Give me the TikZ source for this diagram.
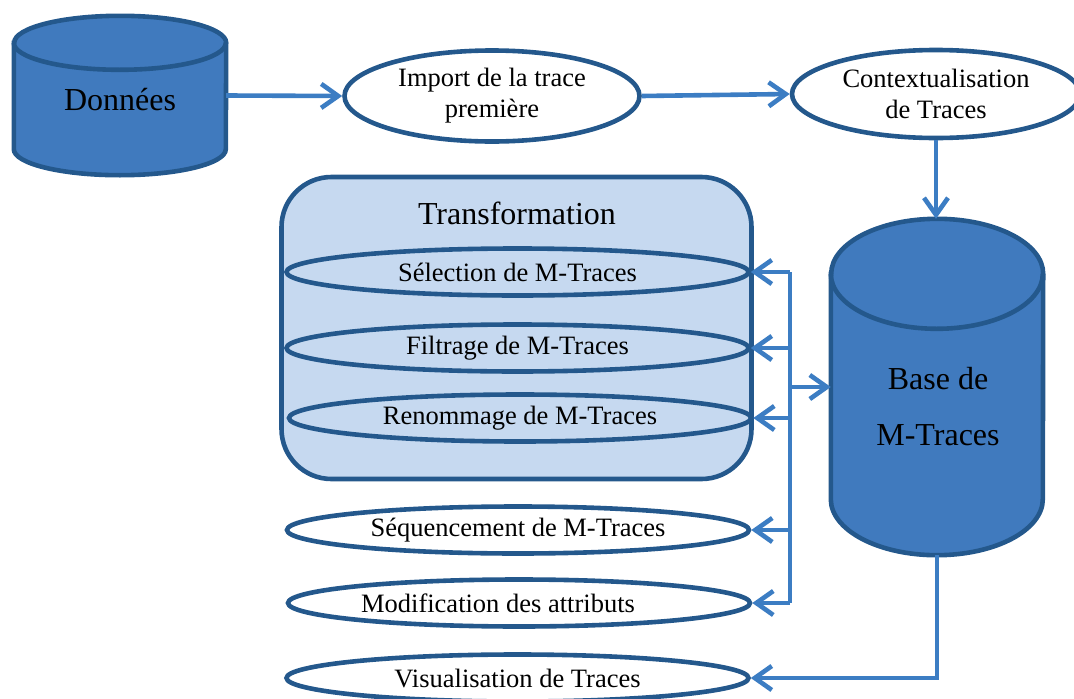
\documentclass[tikz,border=0pt]{standalone}
\usepackage{fontspec}
\setmainfont{Liberation Serif}
\usetikzlibrary{shapes.geometric,arrows.meta,calc,backgrounds}
\definecolor{cylblue}{RGB}{64,122,190}
\definecolor{edgeblue}{RGB}{36,88,140}
\definecolor{arrowblue}{RGB}{60,125,195}
\definecolor{paleblue}{RGB}{198,217,240}
\begin{document}
\begin{tikzpicture}
			[x=1pt,y=1pt,
			elli/.style={ellipse,draw=edgeblue,line width=4.6pt,minimum width=462pt,minimum height=47pt,inner sep=0pt,font=\fontsize{26.5}{31}\selectfont},
			bigelli/.style={elli,fill=white,align=center},
			box/.style={inner sep=0pt,font=\fontsize{32}{38}\selectfont},
			cyl/.style={draw=edgeblue,fill=cylblue,line width=4.6pt},
			link/.style={draw=arrowblue,line width=4.6pt,-{Straight Barb[length=17pt,width=24pt]}},
			wire/.style={draw=arrowblue,line width=4.6pt}]
			\useasboundingbox (0,0) rectangle (1074,-699);
			\node[box,name=data,minimum width=212pt,minimum height=159pt,text height=31pt] at (120,-95.5) {Donn\'ees};
			\node[bigelli,name=imp,minimum width=295pt,minimum height=91pt] at (492,-96) {Import de la trace\\premi\`ere};
			\node[bigelli,name=ctx,minimum width=288pt,minimum height=88pt] at (936,-94) {Contextualisation\\de Traces};
			\node[box,name=base,minimum width=212pt,minimum height=336pt] at (937,-387) {};
			\node[box,name=basetxt,align=center,font=\fontsize{32}{56}\selectfont] at (938,-407) {Base de\\M-Traces};
			\node[name=transf,draw=edgeblue,fill=paleblue,line width=4.6pt,rounded corners=50pt,minimum width=470pt,minimum height=302pt] at (516.5,-328) {};
			\node[box,name=ttl] at (517,-213) {Transformation};
			\node[elli,name=sel] at (517.5,-272) {S\'election de M-Traces};
			\node[elli,name=filt] at (517.5,-348) {Filtrage de M-Traces};
			\node[elli,name=ren] at (520,-418) {Renommage de M-Traces};
			\node[elli,name=seq] at (518,-530) {S\'equencement de M-Traces};
			\node[elli,name=mod] at (519,-603) {Modification des attributs\hspace*{42pt}};
			\node[elli,name=visu] at (517.5,-678) {Visualisation de Traces};
			\coordinate (bus) at (790,-387);
			% cylinders
			\begin{scope}[on background layer]
				\draw[cyl]($(data.north west)+(0,-27)$)--($(data.south west)+(0,26)$) arc[start angle=180,end angle=360,x radius=106pt,y radius=26pt]--($(data.north east)+(0,-27)$) arc[start angle=0,end angle=180,x radius=106pt,y radius=27pt]--cycle;
				\draw[cyl,fill=none]($(data.north west)+(0,-27)$) arc[start angle=180,end angle=360,x radius=106pt,y radius=27pt];
				\draw[cyl]($(base.north west)+(0,-55)$)--($(base.south west)+(0,56)$) arc[start angle=180,end angle=360,x radius=106pt,y radius=56pt]--($(base.north east)+(0,-55)$) arc[start angle=0,end angle=180,x radius=106pt,y radius=55pt]--cycle;
				\draw[cyl,fill=none]($(base.north west)+(0,-55)$) arc[start angle=180,end angle=360,x radius=106pt,y radius=55pt];
			\end{scope}
			\draw[link](data.east)--(imp.west);
			\draw[link](imp.east)--(ctx.west);
			\draw[link](ctx.south)--(ctx.south|-base.north);
			\draw[wire](bus|-sel.east)--(bus|-mod.east);
			\foreach \n in {sel,filt,ren,seq,mod}
				\draw[link](bus|-\n.east)--(\n.east);
			\draw[link](bus)--(base.west);
			\draw[link](base.south)|-(visu.east);
		\end{tikzpicture}
\end{document}
